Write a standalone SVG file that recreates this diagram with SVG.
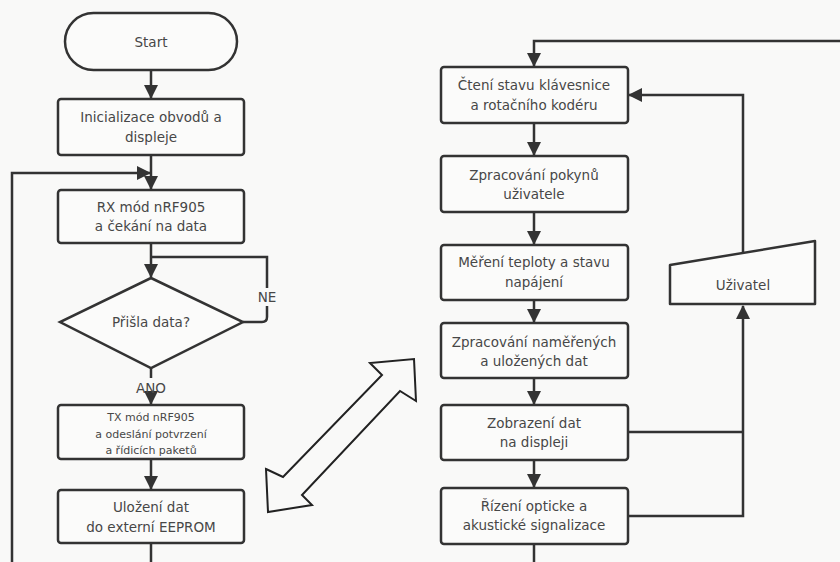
<svg xmlns="http://www.w3.org/2000/svg" width="840" height="562" viewBox="0 0 840 562">
<defs>
<marker id="ah" markerUnits="userSpaceOnUse" markerWidth="14" markerHeight="14" viewBox="0 0 14 14" refX="13" refY="7" orient="auto">
<path d="M0 0 L14 7 L0 14 Z" fill="#333"/>
</marker>
<style>
.box{fill:#fbfbfa;stroke:#333;stroke-width:2.5}
.ln{fill:none;stroke:#333;stroke-width:2.5}
.t{font-family:"DejaVu Sans","Liberation Sans",Arial,sans-serif;font-size:13.5px;fill:#474747;text-anchor:middle}
.s{font-size:11px}
</style>
</defs>
<rect width="840" height="562" fill="#f9f9f8"/>
<g id="connectors">
<path class="ln" d="M151 70 V98" marker-end="url(#ah)"/>
<path class="ln" d="M151 155 V189" marker-end="url(#ah)"/>
<path class="ln" d="M12 562 V173 H150" marker-end="url(#ah)"/>
<path class="ln" d="M151 243 V277" marker-end="url(#ah)"/>
<path class="ln" d="M243 322 H262 Q267 322 267 317 V257 H151"/>
<path class="ln" d="M151 368 V378"/>
<path class="ln" d="M151 397 V404" marker-end="url(#ah)"/>
<path class="ln" d="M151 459 V489" marker-end="url(#ah)"/>
<path class="ln" d="M151 543 V562"/>
<path class="ln" d="M840 41 H534 V66" marker-end="url(#ah)"/>
<path class="ln" d="M534 123 V155" marker-end="url(#ah)"/>
<path class="ln" d="M534 212 V244" marker-end="url(#ah)"/>
<path class="ln" d="M534 300 V322" marker-end="url(#ah)"/>
<path class="ln" d="M534 378 V404" marker-end="url(#ah)"/>
<path class="ln" d="M534 460 V487" marker-end="url(#ah)"/>
<path class="ln" d="M534 544 V562"/>
<path class="ln" d="M743 253 V95 H629" marker-end="url(#ah)"/>
<path class="ln" d="M628 432 H743"/>
<path class="ln" d="M628 516 H743 V306" marker-end="url(#ah)"/>
<rect x="255" y="288" width="24" height="18" fill="#f9f9f8"/>
<text class="t" x="267" y="302">NE</text>
<text class="t" x="151" y="393">ANO</text>
<polygon points="266,469 283,477 382,375 370,363 414,359 416,401 400,391 302,495 312,505 268,512" fill="none" stroke="#222" stroke-width="2" stroke-linejoin="miter"/>
</g>
<g id="start">
<rect class="box" x="65" y="13" width="172" height="57" rx="28.5"/>
<text class="t" x="151" y="47">Start</text>
</g>
<g id="init">
<rect class="box" x="58" y="99" width="186" height="56" rx="3"/>
<text class="t" x="151" y="122">Inicializace obvodů a</text>
<text class="t" x="151" y="142">displeje</text>
</g>
<g id="rx">
<rect class="box" x="58" y="190" width="186" height="53" rx="3"/>
<text class="t" x="151" y="212">RX mód nRF905</text>
<text class="t" x="151" y="231">a čekání na data</text>
</g>
<g id="decision">
<polygon class="box" points="151,278 243,322 151,368 60,322"/>
<text class="t" x="151" y="327">Přišla data?</text>
</g>
<g id="tx">
<rect class="box" x="58" y="405" width="186" height="54" rx="3"/>
<text class="t s" x="151" y="421">TX mód nRF905</text>
<text class="t s" x="151" y="438">a odeslání potvrzení</text>
<text class="t s" x="151" y="454">a řídicích paketů</text>
</g>
<g id="store">
<rect class="box" x="58" y="490" width="186" height="53" rx="3"/>
<text class="t" x="151" y="512">Uložení dat</text>
<text class="t" x="151" y="532">do externí EEPROM</text>
</g>
<g id="read">
<rect class="box" x="441" y="67" width="187" height="56" rx="3"/>
<text class="t" x="534" y="90">Čtení stavu klávesnice</text>
<text class="t" x="534" y="110">a rotačního kodéru</text>
</g>
<g id="process">
<rect class="box" x="441" y="156" width="187" height="56" rx="3"/>
<text class="t" x="534" y="180">Zpracování pokynů</text>
<text class="t" x="534" y="199">uživatele</text>
</g>
<g id="measure">
<rect class="box" x="441" y="245" width="187" height="55" rx="3"/>
<text class="t" x="534" y="267">Měření teploty a stavu</text>
<text class="t" x="534" y="287">napájení</text>
</g>
<g id="data">
<rect class="box" x="441" y="323" width="187" height="55" rx="3"/>
<text class="t" x="534" y="347">Zpracování naměřených</text>
<text class="t" x="534" y="366">a uložených dat</text>
</g>
<g id="display">
<rect class="box" x="441" y="405" width="187" height="55" rx="3"/>
<text class="t" x="534" y="428">Zobrazení dat</text>
<text class="t" x="534" y="447">na displeji</text>
</g>
<g id="signal">
<rect class="box" x="441" y="488" width="187" height="56" rx="3"/>
<text class="t" x="534" y="511">Řízení opticke a</text>
<text class="t" x="534" y="530">akustické signalizace</text>
</g>
<g id="user">
<polygon class="box" points="670,265 815,241 815,304 670,304" stroke-linejoin="round"/>
<text class="t" x="743" y="290">Uživatel</text>
</g>
</svg>
